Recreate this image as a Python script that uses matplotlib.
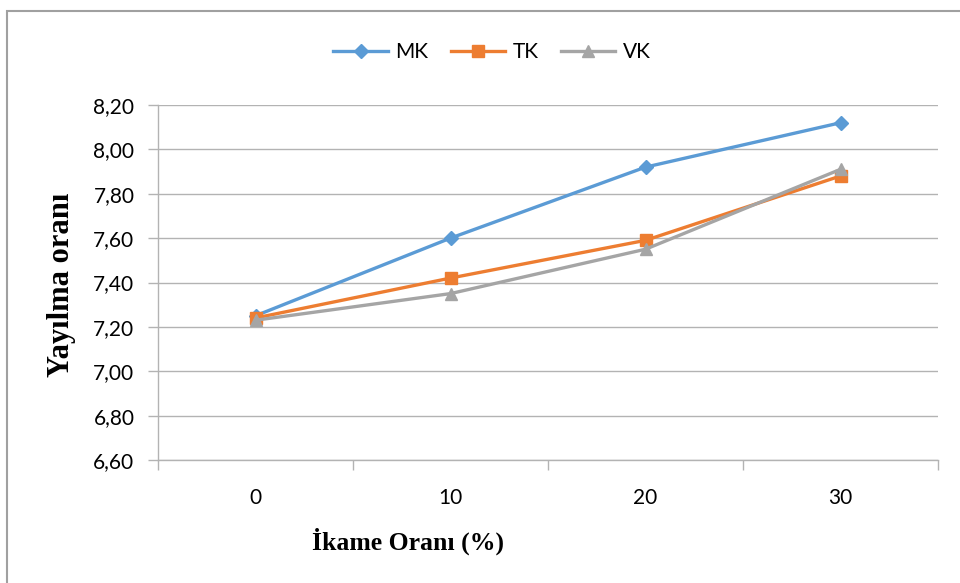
import numpy as np
import matplotlib.pyplot as plt
from matplotlib.patches import Rectangle

# data
categories = ["0", "10", "20", "30"]
mk = [7.25, 7.60, 7.92, 8.12]
tk = [7.24, 7.42, 7.59, 7.88]
vk = [7.23, 7.35, 7.55, 7.91]
y_ticks = [6.60, 6.80, 7.00, 7.20, 7.40, 7.60, 7.80, 8.00, 8.20]

grid_col = "#B3B3B3"
tick_font = "Lato"
title_font = "Liberation Serif"

fig = plt.figure(figsize=(9.6, 5.83), dpi=100)
W, H = 960, 583

# outer chart border (cut off at right/bottom as in the reference)
fig.patches.append(Rectangle((7 / W, -0.1), 1.2, 1 - 11 / H + 0.1,
                             transform=fig.transFigure, fill=False,
                             edgecolor="#A0A0A0", linewidth=1.5))

ax = fig.add_axes([158 / W, 1 - 460 / H, (938 - 158) / W, (460 - 105) / H])
x = np.arange(len(categories))

ax.plot(x, mk, color="#5B9BD5", lw=2.4, marker="D", ms=7.5, label="MK", zorder=3)
ax.plot(x, tk, color="#ED7D31", lw=2.4, marker="s", ms=8.5, label="TK", zorder=3)
ax.plot(x, vk, color="#A5A5A5", lw=2.4, marker="^", ms=9, label="VK", zorder=3)

ax.set_xlim(-0.5, len(categories) - 0.5)
ax.set_ylim(6.60, 8.20)
ax.set_yticks(y_ticks)
ax.set_yticklabels([f"{v:.2f}".replace(".", ",") for v in y_ticks],
                   fontsize=15, family=tick_font)
ax.set_xticks(x)
ax.set_xticklabels(categories, fontsize=15, family=tick_font)
ax.set_xticks(np.arange(-0.5, len(categories)), minor=True)
ax.tick_params(axis="x", which="major", length=0, pad=20)
ax.tick_params(axis="x", which="minor", length=7, color=grid_col, width=1)
ax.tick_params(axis="y", length=7, color=grid_col, width=1, pad=10)

ax.grid(axis="y", color=grid_col, lw=1)
ax.set_axisbelow(True)
for s in ["top", "right"]:
    ax.spines[s].set_visible(False)
for s in ["left", "bottom"]:
    ax.spines[s].set_color(grid_col)
    ax.spines[s].set_linewidth(1)

fig.text(62 / W, 1 - 285 / H, "Yayılma oranı", rotation=90, ha="center",
         va="center", fontsize=22, fontweight="bold", family=title_font)
fig.text(408 / W, 1 - 541 / H, "İkame Oranı (%)", ha="center",
         va="center", fontsize=18.5, fontweight="bold", family=title_font)

fig.legend(loc="center", bbox_to_anchor=(492 / W, 1 - 52 / H), ncol=3,
           frameon=False, prop={"family": tick_font, "size": 15},
           handlelength=2.6, columnspacing=1.1, handletextpad=0.35)

fig.savefig("out.png", dpi=100)
